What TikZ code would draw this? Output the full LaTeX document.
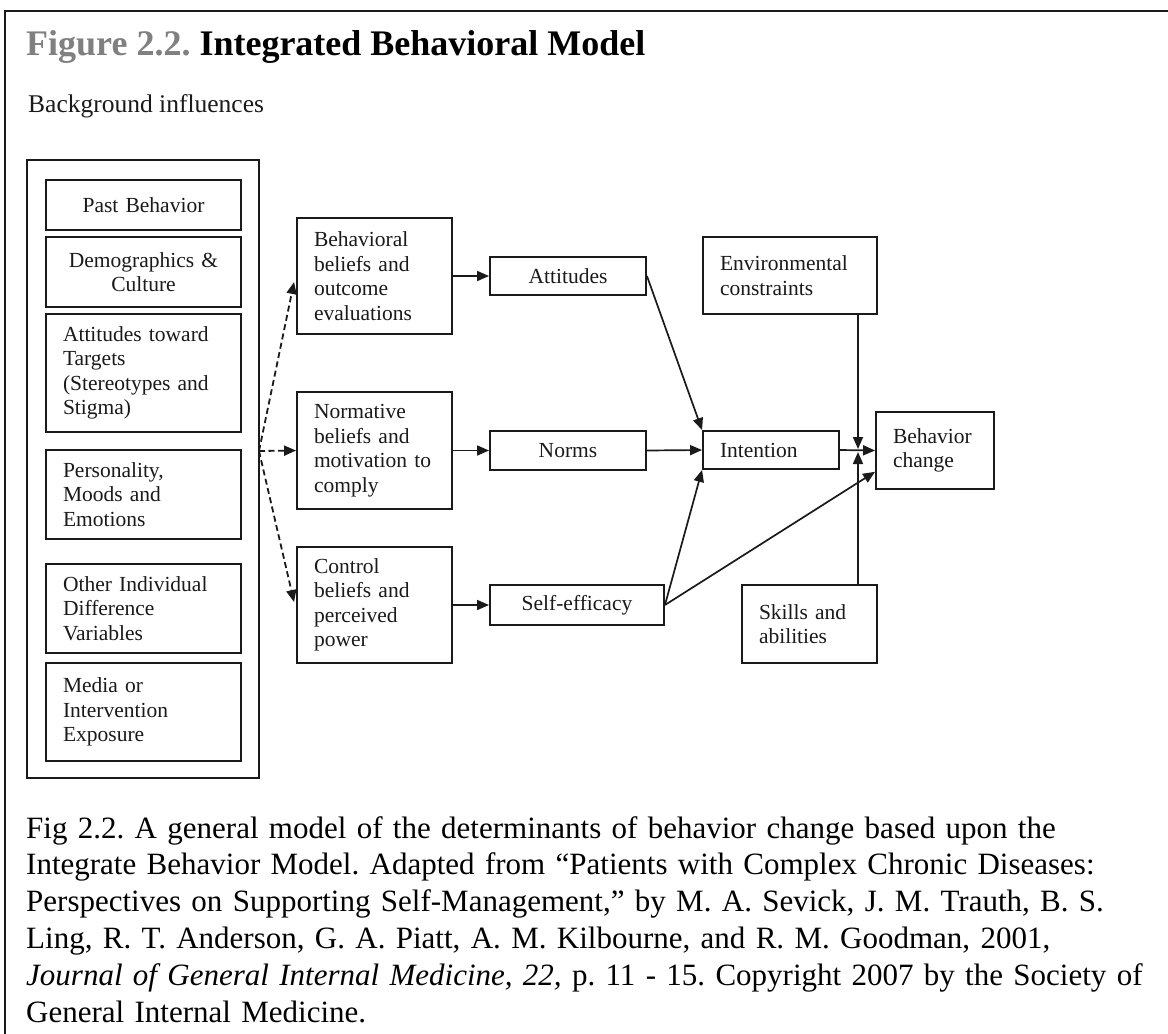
\documentclass[tikz,border=0pt]{standalone}
\usepackage{fontspec}
\setmainfont{Liberation Serif}
\usetikzlibrary{arrows.meta,calc}
\definecolor{figgray}{HTML}{808080}
\definecolor{ink}{HTML}{1A1A1A}
\setlength{\parindent}{0pt}
\frenchspacing
\newcommand\boxfont{\fontsize{21.5}{24.5}\selectfont}
\newcommand\capfont{\fontsize{31}{36.8}\selectfont}
\begin{document}
\begin{tikzpicture}[x=1pt,y=-1pt,
  bx/.style={draw=ink, line width=1.9pt, inner xsep=17pt, inner ysep=0pt, align=left, font=\boxfont, text=ink},
  arr/.style={draw=ink, line width=1.7pt, -{Triangle[length=12pt,width=10pt]}},
  dsh/.style={draw=ink, line width=1.8pt, dash pattern=on 6pt off 3.5pt, -{Triangle[length=12pt,width=10pt]}}
]
\useasboundingbox (0,0) rectangle (1168,1034);
\fill[white] (0,0) rectangle (1168,1034);
% frame (cut off at right and bottom)
\draw[ink, line width=2.4pt] (5,1040) -- (5,11) -- (1175,11);

% title
\node[anchor=base west, inner sep=0pt, font=\fontsize{36}{40}\selectfont\bfseries, text=black] (title) at (26,55)
  {\textcolor{figgray}{Figure 2.2.} Integrated Behavioral Model};
\node[anchor=base west, inner sep=0pt, font=\fontsize{25.5}{28}\selectfont, text=ink] (bg) at (28,112) {Background influences};

% background influences column
\node[draw=ink, line width=1.9pt, minimum width=232pt, minimum height=618pt, inner sep=0pt] (lb) at (143,469) {};
\node[bx, align=center, minimum width=195pt, minimum height=50pt, text width=161pt] (pb) at (143.5,205) {Past Behavior};
\node[bx, align=center, minimum width=195pt, minimum height=70pt, text width=161pt] (dem) at (143.5,272) {Demographics \&\\Culture};
\node[bx, minimum width=195pt, minimum height=118pt, text width=161pt] (att2) at (143.5,373) {Attitudes toward\\Targets\\(Stereotypes and\\Stigma)};
\node[bx, minimum width=195pt, minimum height=89pt, text width=161pt] (pers) at (143.5,494.5) {Personality,\\Moods and\\Emotions};
\node[bx, minimum width=195pt, minimum height=89pt, text width=161pt] (oth) at (143.5,608.5) {Other Individual\\Difference\\Variables};
\node[bx, minimum width=195pt, minimum height=98pt, text width=161pt] (med) at (143.5,712) {Media or\\Intervention\\Exposure};

% belief boxes
\node[bx, minimum width=155pt, minimum height=116pt, text width=121pt] (bb) at (374.5,276) {Behavioral\\beliefs and\\outcome\\evaluations};
\node[bx, minimum width=155pt, minimum height=117pt, text width=121pt] (nb) at (374.5,450.5) {Normative\\beliefs and\\motivation to\\comply};
\node[bx, minimum width=155pt, minimum height=116pt, text width=121pt] (cb) at (374.5,605) {Control\\beliefs and\\perceived\\power};

% constructs
\node[bx, align=center, minimum width=156pt, minimum height=38pt, text width=122pt] (attd) at (568,276) {Attitudes};
\node[bx, align=center, minimum width=156pt, minimum height=39pt, text width=122pt] (nor) at (568,450.5) {Norms};
\node[bx, align=center, minimum width=174pt, minimum height=40pt, text width=140pt] (se) at (577,605) {Self-efficacy};

\node[bx, minimum width=174pt, minimum height=77pt, text width=140pt] (env) at (790,275.5) {Environmental\\constraints};
\node[bx, minimum width=136pt, minimum height=38pt, text width=102pt] (int) at (771,450) {Intention};
\node[bx, minimum width=118pt, minimum height=77pt, text width=84pt] (bc) at (935,450.5) {Behavior\\change};
\node[bx, minimum width=135pt, minimum height=78pt, text width=101pt] (sk) at (809.5,624) {Skills and\\abilities};

% dashed influences
\coordinate (ds) at (259,451);
\draw[dsh] (ds) -- ($(bb.west)+(-2,6)$);
\draw[dsh] (ds) -- (nb.west);
\draw[dsh] (ds) -- ($(cb.west)+(-2,-3)$);

% solid arrows
\draw[arr] (bb.east) -- (attd.west);
\draw[arr] (nb.east) -- (nor.west);
\draw[arr] (cb.east) -- (se.west);
\draw[arr] (attd.east) -- (int.north west);
\draw[arr] (nor.east) -- (int.west);
\draw[arr] (se.east) -- (int.south west);
\draw[arr] (se.east) -- ($(bc.north west)!0.77!(bc.south west)$);
\draw[arr] (int.east) -- (bc.west);
\coordinate (j) at (858,450);
\draw[arr] (env.south -| j) -- ($(j)+(0,-1)$);
\draw[arr] (sk.north -| j) -- ($(j)+(0,2)$);

% caption
\node[anchor=base west, inner sep=0pt, text width=1140pt, align=left, font=\capfont, text=black] (cap) at (26,838)
{Fig 2.2. A general model of the determinants of behavior change based upon the\\
Integrate Behavior Model. Adapted from “Patients with Complex Chronic Diseases:\\
Perspectives on Supporting Self-Management,” by M. A. Sevick, J. M. Trauth, B. S.\\
Ling, R. T. Anderson, G. A. Piatt, A. M. Kilbourne, and R. M. Goodman, 2001,\\
\textit{Journal of General Internal Medicine, 22,} p. 11 - 15. Copyright 2007 by the Society of\\
General Internal Medicine.};
\end{tikzpicture}
\end{document}
